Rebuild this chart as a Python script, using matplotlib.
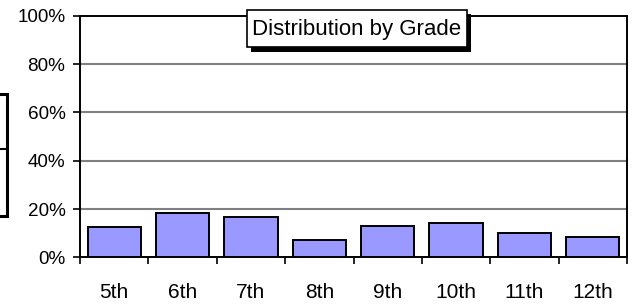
import matplotlib
matplotlib.use("Agg")
import matplotlib.pyplot as plt
from matplotlib.patches import Rectangle
import numpy as np

plt.rcParams['font.family'] = ['Liberation Sans', 'DejaVu Sans']

grades = ["5th", "6th", "7th", "8th", "9th", "10th", "11th", "12th"]
shares = [12.4, 18.5, 16.7, 7.2, 13.0, 14.2, 10.1, 8.3]
y_ticks = [0, 20, 40, 60, 80, 100]
title = "Distribution by Grade"

W, H = 634, 306
fig = plt.figure(figsize=(W / 100, H / 100), dpi=100)

# plot area in pixels (left, top, right, bottom)
L, T, R, B = 80, 15.8, 627, 257.3
ax = fig.add_axes([L / W, 1 - B / H, (R - L) / W, (B - T) / H])

x = np.arange(len(grades))
ax.bar(x, shares, width=0.78, color="#9999ff", edgecolor="black", linewidth=1.4, zorder=3)

ax.set_xlim(-0.5, len(grades) - 0.5)
ax.set_ylim(0, 100)
ax.set_yticks(y_ticks)
ax.set_yticklabels([f"{v}%" for v in y_ticks], fontsize=13.6)
for v in y_ticks[1:-1]:
    ax.axhline(v, color="#808080", linewidth=1.5, zorder=1)

# category labels centered, ticks on category boundaries
ax.set_xticks(x)
ax.set_xticklabels(grades, fontsize=15)
ax.tick_params(axis="x", length=0, pad=18.5)
ax.set_xticks(np.arange(len(grades) + 1) - 0.5, minor=True)
ax.tick_params(axis="x", which="minor", length=5, width=1.2, color="black")
ax.tick_params(axis="y", length=5, width=1.2, pad=5.5)

for s in ax.spines.values():
    s.set_linewidth(1.4)
    s.set_color("black")

# title box with shadow (pixel coordinates)
def px_rect(x0, y0, x1, y1, **kw):
    r = Rectangle((x0 / W, 1 - y1 / H), (x1 - x0) / W, (y1 - y0) / H,
                  transform=fig.transFigure, **kw)
    fig.add_artist(r)

px_rect(251, 14, 470.5, 52, facecolor="black", edgecolor="none", zorder=5)
px_rect(247, 10, 467, 47, facecolor="white", edgecolor="black", linewidth=1.2, zorder=6)
fig.text(357 / W, 1 - 29.5 / H, title, ha="center", va="center", fontsize=16, zorder=7)

# clipped legend box at left edge
px_rect(-10, 94, 7, 216, facecolor="white", edgecolor="black", linewidth=2.2, zorder=5)
fig.add_artist(plt.Line2D([0, 7 / W], [1 - 149 / H, 1 - 149 / H],
                          transform=fig.transFigure, color="black", linewidth=1.5, zorder=6))

fig.savefig("out.png", dpi=100)
